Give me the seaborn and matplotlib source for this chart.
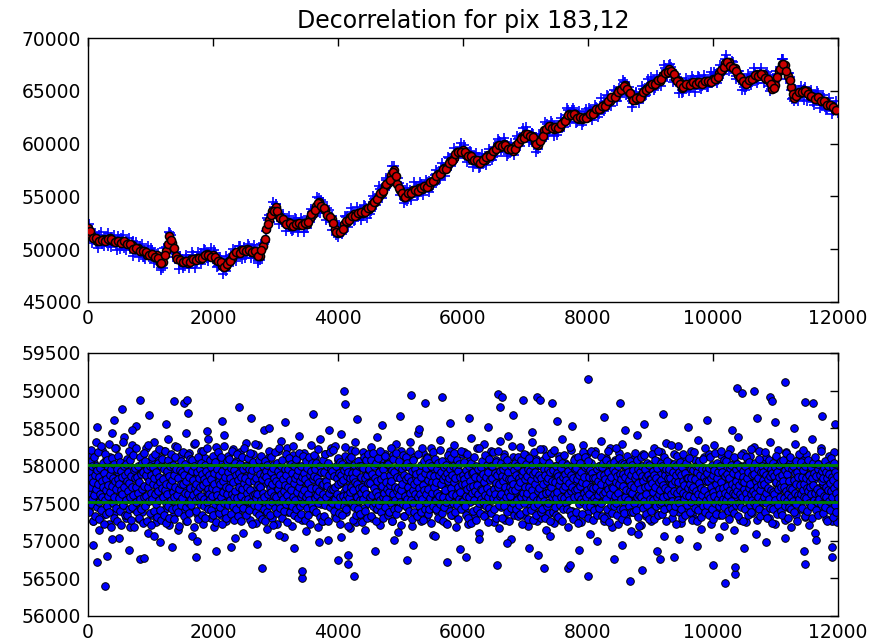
import numpy as np
import pandas as pd
import matplotlib
matplotlib.use("Agg")
import matplotlib.pyplot as plt
import seaborn as sns

TITLE = "Decorrelation for pix 183,12"
TOP_STEP = 50      # frame spacing of the top-panel samples
TOP_MID = 25       # the *_mid lists sit halfway between
TOP_OUT = 12       # offset of top_raw_out samples
BOT_STEP_A = 15    # frame spacing of bottom_core
BOT_STEP_B = 7.5   # frame spacing of bottom_core_b

# ---- top panel: measured flux (blue +) ----
top_raw = [
    52200, 51150, 51150, 50450, 51000, 50750, 51250, 50600, 50900, 50550,
    50950, 50350, 50750, 50300, 50650, 49900, 49950, 50150, 49300, 49750,
    49200, 49600, 49200, 49150, 48250, 50250, 51600, 50300, 49500, 48650,
    49100, 48450, 49100, 48750, 49050, 48800, 49650, 49200, 49150, 49550,
    49100, 49450, 48500, 48600, 47900, 49050, 49150, 49800, 49750, 49450,
    50200, 49700, 49950, 49350, 49850, 49000, 50600, 51700, 53200, 53250,
    54250, 53000, 52900, 52350, 52600, 51900, 52600, 52150, 52450, 52100,
    52700, 52550, 53750, 53900, 54850, 53800, 53750, 52950, 53100, 51850,
    51150, 52100, 52150, 53100, 52700, 53300, 53100, 53750, 53100, 53900,
    54050, 53900, 54850, 54850, 55750, 55650, 56500, 56700, 57900, 56100,
    55150, 55300, 54600, 55600, 55400, 55850, 55400, 55950, 55700, 56450,
    56200, 57000, 56850, 57700, 57300, 58000, 58050, 58900, 59000, 59650,
    59000, 59150, 58450, 58850, 58200, 58700, 58150, 58800, 58550, 59200,
    59650, 59400, 60150, 59650, 59900, 59100, 59500, 59550, 60500, 60300,
    60950, 60550, 61000, 60000, 59500, 60750, 61050, 61900, 61350, 61700,
    61200, 61800, 61750, 62750, 62550, 63200, 62400, 62600, 62100, 62700,
    62450, 63100, 62600, 63400, 63300, 63950, 63550, 64250, 64100, 64950,
    65300, 65100, 65850, 64700, 64050, 64600, 64150, 64800, 64550, 65350,
    65250, 66050, 65700, 66300, 66000, 67000, 67450, 66400, 66450, 65600,
    65100, 65750, 65400, 66050, 65550, 66050, 65450, 65900, 65600, 66250,
    66200, 65900, 66950, 66950, 68000, 67350, 67400, 66650, 66850, 65900,
    65350, 66100, 65850, 66550, 66200, 66800, 66400, 66550, 65500, 65350,
    65850, 66600, 68000, 67000, 66650, 65050, 64050, 64900, 64750, 65200,
    64600, 64800, 63950, 64600, 64000, 64250, 63500, 63950, 63350, 63600,
    62900,
]
top_raw_mid = [
    51200, 51580, 50725, 51375, 50505, 51025, 50300, 51155, 50700, 51205,
    51050, 50155, 50750, 50050, 50775, 49900, 50345, 49295, 49750, 49300,
    49950, 48970, 49300, 48200, 49650, 50400, 51300, 49600, 49350, 49350,
    48375, 49125, 48700, 49470, 48650, 49400, 48950, 49930, 49200, 49450,
    49620, 48400, 48950, 48200, 49030, 48700, 49550, 49150, 50350, 49550,
    49520, 50350, 49500, 50000, 48900, 50050, 50700, 52750, 53000, 54000,
    53080, 53300, 53100, 52150, 52500, 51820, 52850, 52150, 52700, 52050,
    53150, 52900, 53950, 53650, 54630, 53700, 53900, 52580, 52650, 51350,
    51900, 51600, 53050, 52600, 53500, 52750, 53500, 53100, 54080, 53600,
    53650, 54750, 54600, 55700, 55350, 56600, 56150, 57450, 56700, 56280,
    55820, 54700, 55450, 54950, 55750, 55100, 56150, 55700, 56350, 55950,
    56100, 57100, 56650, 57830, 57550, 58650, 58150, 59050, 58780, 59600,
    59550, 58600, 59250, 58300, 58700, 57820, 58650, 58250, 59100, 58700,
    59200, 60250, 59550, 60150, 59050, 59650, 59300, 60480, 60200, 61000,
    61150, 60300, 60900, 59800, 60700, 60500, 61500, 61130, 61930, 61250,
    61070, 62100, 61950, 63150, 62500, 63150, 62050, 62650, 62000, 62950,
    63200, 62650, 63450, 62820, 63700, 63300, 64500, 63950, 64700, 64500,
    64850, 65850, 64700, 64900, 63850, 64750, 64250, 65130, 64600, 65650,
    65950, 65270, 66100, 65900, 67150, 66650, 67250, 66000, 66350, 65450,
    64900, 65850, 65225, 66125, 65525, 66275, 65450, 66075, 65395, 66350,
    66550, 66050, 67100, 66850, 67900, 67250, 67700, 66400, 66500, 65600,
    65350, 66400, 65850, 66750, 66000, 66750, 66100, 66500, 65200, 65900,
    66500, 66750, 68000, 66700, 66300, 64350, 64200, 65100, 64700, 65400,
    64400, 64850, 64100, 64750, 63700, 64300, 63250, 63850, 63100, 63600,
]
top_raw_out = [
    52350, 50550, 51525, 50075, 51625, 50275, 51550, 50175, 51350, 49925,
    50000, 51325, 49950, 51100, 49375, 50650, 49275, 50475, 49100, 50350,
    50150, 48700, 49650, 48000, 50150, 50000, 51500, 49250, 49750, 48150,
    48175, 49475, 48250, 49700, 48250, 49750, 48600, 50050, 48850, 50150,
    49900, 48300, 49250, 47650, 49350, 48450, 50050, 48900, 50300, 49050,
    49200, 50500, 49150, 50400, 48650, 50450, 50450, 53000, 52600, 54500,
    54300, 52400, 53300, 51750, 53150, 51700, 52950, 51650, 52950, 51650,
    52000, 53850, 53150, 54950, 53450, 54450, 52750, 53700, 51850, 52500,
    52300, 51400, 53100, 52100, 53900, 52650, 54000, 52750, 54150, 53000,
    53350, 55050, 54200, 55950, 54850, 56750, 56050, 57900, 56300, 56700,
    56000, 54400, 55750, 54650, 56350, 55050, 56400, 55150, 56550, 55450,
    55850, 57500, 56550, 58200, 56950, 58700, 57850, 59600, 58650, 60100,
    59850, 58250, 59300, 57750, 59150, 57700, 59050, 57950, 59500, 58450,
    58850, 60400, 59200, 60500, 58800, 60050, 58950, 60700, 59800, 61450,
    61550, 60150, 61050, 59250, 60950, 60250, 62000, 60850, 62100, 60700,
    60850, 62400, 61550, 63350, 62000, 63350, 61950, 63100, 61800, 63300,
    63400, 62250, 63700, 62550, 64300, 63100, 64600, 63550, 65100, 64050,
    64450, 66050, 64650, 65400, 63450, 64850, 63800, 65450, 64500, 66150,
    66300, 65100, 66500, 65450, 67400, 66300, 67500, 65800, 66600, 64800,
    64750, 66200, 65025, 66425, 64925, 66375, 65150, 66525, 65325, 66750,
    66800, 65750, 67450, 66600, 68400, 66850, 67800, 66100, 66900, 65100,
    65050, 66550, 65550, 67150, 65750, 67150, 65700, 66750, 65000, 66200,
    66900, 66550, 68050, 66150, 66700, 64250, 65150, 64050, 65500, 64150,
    64050, 65100, 63700, 65000, 63350, 64600, 63150, 64300, 62850, 64050,
]

# ---- top panel: decorrelation model (red o) ----
top_model = [
    52000, 51320, 51060, 50730, 50840, 50940, 50850, 51020, 50750, 50780,
    50640, 50810, 50560, 50500, 50380, 49980, 50070, 49810, 49800, 49490,
    49580, 49300, 49420, 48740, 48790, 49870, 51250, 50600, 49320, 49060,
    48810, 48920, 48690, 49030, 48960, 49180, 49080, 49360, 49510, 49330,
    49420, 49010, 48860, 48370, 48380, 48840, 49190, 49600, 49640, 49890,
    49800, 50030, 49730, 49790, 49480, 49360, 50320, 51910, 52750, 53600,
    53980, 53180, 52890, 52540, 52540, 52200, 52350, 52370, 52290, 52520,
    52430, 53000, 53370, 54060, 54490, 54020, 53720, 53100, 52840, 51910,
    51510, 51740, 52380, 52580, 53050, 53330, 53210, 53470, 53400, 53760,
    53820, 54290, 54490, 55070, 55350, 56020, 56310, 57060, 57500, 56170,
    55600, 54980, 55060, 55220, 55630, 55540, 55790, 55690, 55950, 56030,
    56470, 56600, 57120, 57240, 57690, 57770, 58380, 58650, 59210, 59210,
    59420, 58930, 58890, 58490, 58460, 58210, 58430, 58440, 58880, 58980,
    59340, 59810, 59720, 59930, 59600, 59550, 59280, 59890, 60150, 60600,
    60890, 60780, 60760, 60120, 59910, 60450, 61330, 61400, 61670, 61410,
    61600, 61540, 62020, 62310, 62850, 62690, 62780, 62370, 62360, 62490,
    62520, 62930, 62930, 63300, 63280, 63660, 63890, 63990, 64450, 64640,
    65110, 65210, 65570, 64880, 64380, 64140, 64430, 64500, 64950, 65290,
    65560, 65590, 65920, 65930, 66500, 66670, 67080, 66760, 66210, 65910,
    65280, 65590, 65540, 65760, 65620, 65880, 65700, 65850, 65920, 65810,
    66090, 66130, 66710, 66970, 67660, 67700, 67220, 67120, 66540, 66150,
    65820, 65710, 66060, 66190, 66580, 66550, 66630, 66080, 65970, 65140,
    65520, 66920, 67540, 67400, 66370, 65370, 64310, 64710, 64830, 65060,
    65000, 64540, 64390, 64180, 64270, 64000, 64030, 63620, 63560, 63190,
    63250,
]
top_model_mid = [
    51710, 51090, 51055, 50755, 50915, 50735, 50940, 50995, 50710, 50795,
    50620, 50775, 50500, 50490, 50055, 50110, 49795, 49865, 49700, 49450,
    49510, 49240, 49180, 48680, 49440, 50460, 50890, 50070, 49110, 49020,
    48795, 48925, 48800, 49090, 48930, 49210, 49120, 49440, 49450, 49250,
    49260, 48840, 48780, 48330, 48640, 48910, 49440, 49720, 49660, 49920,
    49820, 49950, 49700, 49790, 49330, 49910, 50970, 52390, 53200, 53600,
    53660, 52940, 52830, 52430, 52440, 52160, 52340, 52470, 52310, 52520,
    52620, 53300, 53700, 54340, 54130, 53910, 53270, 53090, 52450, 51600,
    51660, 51940, 52630, 52780, 53190, 53110, 53390, 53570, 53510, 53870,
    53970, 54500, 54750, 55340, 55530, 56210, 56570, 57290, 56900, 55800,
    55360, 54940, 55280, 55330, 55640, 55510, 55790, 55970, 55910, 56320,
    56470, 56950, 57100, 57590, 57630, 58160, 58370, 58990, 59250, 59200,
    59210, 58790, 58830, 58430, 58440, 58160, 58440, 58770, 58860, 59320,
    59470, 59850, 59750, 59890, 59480, 59510, 59470, 60090, 60400, 60550,
    60910, 60690, 60580, 59930, 60240, 60710, 61390, 61670, 61460, 61570,
    61470, 61850, 62100, 62740, 62680, 62810, 62470, 62490, 62400, 62400,
    62760, 62790, 63230, 63230, 63590, 63560, 63990, 64370, 64460, 64920,
    65070, 65500, 65200, 64790, 64130, 64310, 64320, 64840, 65100, 65250,
    65660, 65640, 66030, 66130, 66690, 66760, 66890, 66620, 65960, 65670,
    65370, 65650, 65575, 65815, 65605, 65835, 65670, 65915, 65925, 65850,
    66160, 66290, 66980, 67280, 67690, 67310, 67190, 66920, 66260, 65970,
    65670, 66000, 66100, 66540, 66430, 66610, 66220, 66140, 65600, 65300,
    66260, 67090, 67580, 66830, 65990, 64710, 64540, 64870, 64860, 65020,
    64670, 64550, 64250, 64390, 64030, 64060, 63670, 63690, 63450, 63150,
]

# ---- bottom panel: decorrelated flux, core samples (set A) ----
bottom_core = [
    57820,57410,58150,57690,57930,57260,58040,57580,57770,58310,57500,57880,57140,57960,57640,58210,57350,57710,58060,57450,
    57990,57620,57230,58120,57780,57530,58430,57850,57370,57700,58240,57580,57910,57040,57820,58010,57460,57670,58380,57750,
    57310,57890,58090,57560,57720,57190,57980,58270,57640,57430,57830,58530,57520,57760,57290,58000,57660,57940,57380,58150,
    57700,57480,58230,57850,57110,57970,57600,58060,57340,57790,58320,57550,57900,57250,57680,58110,57820,56980,57740,58000,
    57590,58190,57420,57860,57650,58350,57210,57770,57950,57500,58080,57330,57710,58260,57620,57880,57150,57990,57530,58140,
    57760,57390,58020,57680,58440,57270,57840,57560,58170,57450,57920,57060,57730,58290,57610,57830,57360,58050,57700,57490,
    58200,57570,57910,57220,57800,58100,57470,57660,58360,57540,57870,57310,58030,57750,57180,57940,58250,57630,57410,57850,
    57690,58070,57340,57960,57580,58410,57720,57260,57890,58130,57510,57780,56920,57990,57640,58220,57440,57810,58060,57590,
    57370,57930,58180,57610,57750,57100,58000,57520,57860,58300,57430,57700,58090,57280,57830,57560,58160,57670,57980,57240,
    57800,58280,57490,57720,58040,57350,57900,57600,58470,57460,57770,57160,57950,58120,57540,57840,57300,58010,57650,57880,
    57560,57980,57230,58190,57690,57420,58330,57810,57590,57050,57930,57660,58240,57380,57750,58050,57470,57870,57200,58140,
    57720,57340,58070,57630,57900,58390,57510,57780,57280,57960,58170,57580,57830,57130,57700,58020,57450,57890,58280,57610,
    57400,57850,58110,57540,57760,57190,58000,57680,58350,57490,57920,57270,57800,58150,57570,57730,57010,57990,57620,58230,
    57880,57460,57700,58260,57330,57950,57590,58080,57750,57220,58420,57540,57860,57650,58130,57390,57810,57560,58040,57170,
    57690,58210,57480,57940,57610,58320,57250,57840,57520,58060,57730,57350,57970,58180,57440,57790,57140,57900,57630,58100,
    57530,57870,58250,57300,57740,57600,58010,57420,58380,57670,57910,57210,57820,58090,57550,57760,57360,58160,57640,57990,
    58050,57380,57720,57930,57270,58140,57580,57850,57460,58290,57700,57120,57960,57610,58200,57490,57800,57330,58070,57680,
    57450,58000,57640,58310,57560,57780,57200,57920,58110,57370,57830,57590,58430,57510,57710,57260,57980,58170,57620,57870,
    57770,57310,58120,57650,57890,57430,58240,57560,57080,57950,57720,58050,57400,57860,57630,58340,57290,57750,58010,57540,
    57930,57620,57240,58080,57700,57480,58190,57810,57350,57990,58270,57570,57840,57190,57660,58030,57470,57910,57600,58150,
    57600,58180,57410,57870,57730,57230,58060,57520,57960,58370,57640,57800,57320,57940,57560,58230,57690,57110,57850,58000,
    57490,57760,58290,57580,57910,57360,58120,57670,57440,57990,58200,57540,57820,57250,57710,58080,57600,57930,57170,58330,
    57800,57450,58030,57690,58160,57280,57870,57610,58400,57500,57740,57020,57980,58110,57630,57840,57390,58070,57560,57890,
    57670,58250,57520,57800,57340,57960,57590,58140,57720,57200,58020,57470,57900,57650,58310,57410,57780,57540,58090,57260,
    58010,57590,57850,57300,57710,58220,57480,57940,57630,57150,58060,57760,57370,57880,58170,57550,57810,57240,57990,57650,
    57540,57920,58130,57620,57290,57830,58360,57690,57460,58040,57580,57880,57190,57970,57730,58210,57400,57770,57610,58100,
    57860,57330,57700,58070,57560,57990,57250,57810,58270,57640,57500,57930,58150,57380,57750,57090,57890,58030,57620,57440,
    57720,58190,57580,57860,57420,58000,57680,58330,57530,57790,57270,57950,57640,58100,57350,57840,57570,58240,57710,57180,
    57950,57490,58080,57660,57880,57220,58170,57610,57830,57400,58290,57740,57520,57980,57300,57870,58050,57590,57760,57130,
    57640,57910,57380,58120,57730,57560,58410,57820,57470,57990,57210,57850,58160,57620,57780,57330,58020,57690,57950,57510,
    57830,57270,57960,57600,58230,57450,57770,58060,57350,57890,57640,58180,57520,57740,57060,57930,57680,58300,57440,57810,
    57580,58040,57730,57310,57900,58150,57490,57860,57620,58260,57380,57710,57950,57240,58090,57560,57820,57400,58000,57670,
    57990,57520,57840,58200,57360,57760,57600,58070,57290,57910,57700,58340,57470,57850,57160,57980,57630,58110,57550,57790,
    57410,57880,58160,57650,57960,57230,57800,57540,58280,57690,57430,58010,57760,57340,57900,58140,57580,57830,57200,57970,
    57740,58090,57460,57870,57610,58220,57390,57950,57700,57140,58050,57570,57820,58380,57500,57730,57280,57990,57640,58170,
    57600,57930,57250,58030,57780,57480,58130,57690,57370,57860,58250,57530,57800,57090,57940,57660,58190,57420,57750,58060,
    57880,57350,57720,58110,57590,57970,57300,57840,58320,57610,57460,57900,58080,57230,57770,57550,58210,57680,57390,57920,
    57510,58020,57760,57280,57890,58180,57620,57830,57440,58040,57180,57710,57960,57570,58290,57350,57850,57640,58100,57490,
    57790,57420,58070,57650,57930,57320,58150,57590,57870,57210,57990,57740,58360,57480,57820,57100,57960,57610,58030,57700,
    57560,57900,58240,57380,57750,57630,58010,57290,57880,57530,58130,57690,57440,57950,57260,57810,58180,57600,57920,57250,
]

# ---- bottom panel: decorrelated flux, core samples (set B) ----
bottom_core_b = [
    57640,57910,57380,58050,57720,57490,58210,57830,57560,57990,57270,57780,58120,57610,57870,57330,58000,57690,57450,57940,
    57760,58180,57520,57850,57290,57970,57630,58260,57410,57800,57580,58030,57710,57220,57900,57540,58150,57670,57360,57820,
    58080,57470,57740,57600,58290,57390,57880,57650,57180,57960,57730,58100,57500,57840,57310,58020,57580,57790,58240,57440,
    57690,57950,57260,57820,58130,57570,57760,57400,58050,57680,57930,57210,57850,57620,58310,57480,57710,57990,57340,57880,
    57540,58020,57800,57350,57910,57660,58190,57430,57770,57590,58070,57280,57860,57720,57450,58140,57610,57940,57190,57830,
    57970,57520,57710,58230,57380,57850,57640,57990,57300,57780,58120,57560,57890,57420,58040,57690,57240,57920,57580,58170,
    57730,57460,58060,57600,57880,57270,57950,57710,58280,57530,57800,57370,58000,57640,57870,57210,58110,57560,57750,57980,
    57400,57840,57620,58150,57490,57910,57730,57320,58030,57660,57850,57540,58220,57410,57780,57990,57280,57700,58090,57590,
    57820,57350,57960,57680,58200,57510,57760,57240,57930,57620,58070,57470,57860,57300,57990,57740,58160,57550,57810,57430,
    57650,58010,57290,57870,57590,58120,57720,57440,57960,57610,58250,57380,57830,57690,57200,57940,57530,58060,57760,57480,
    57910,57570,57750,58180,57330,57880,57640,58020,57450,57790,57260,57970,57620,58140,57510,57850,57370,58090,57700,57560,
    57480,57930,58070,57610,57810,57190,57990,57700,58300,57540,57760,57400,57920,57650,58110,57290,57840,57580,57950,57720,
    58040,57600,57350,57890,57740,58190,57470,57820,57560,58010,57300,57780,57930,57520,58230,57690,57420,57870,57630,58080,
    57560,57820,57980,57410,57700,57600,58130,57340,57900,57750,58050,57490,57680,57250,57960,57610,58180,57530,57790,57370,
    57880,57450,57760,58110,57580,57930,57220,57800,57650,58260,57510,57850,57390,57990,57710,57300,58060,57620,57910,57480,
    57700,58090,57540,57830,57360,57970,57620,58200,57470,57780,57590,57940,57280,58030,57660,57880,57420,58150,57570,57810,
    57330,57900,57720,58020,57490,57850,57600,57270,58120,57690,57950,57440,57770,58240,57550,57830,57350,57990,57640,57720,
    58100,57560,57800,57410,57960,57680,58170,57520,57870,57230,57940,57610,58050,57480,57790,57620,58290,57380,57840,57570,
    57620,57960,57460,57740,58080,57350,57890,57710,57550,58130,57290,57820,57640,57990,57420,57880,57580,58060,57270,57930,
    57850,57390,58010,57620,57780,57480,58200,57700,57340,57910,57650,58110,57520,57760,57210,57970,57600,57830,58180,57440,
    57590,57800,57370,58040,57690,57930,57510,57760,58230,57440,57870,57630,57990,57310,58070,57560,57820,57660,57400,57950,
    57740,58150,57490,57880,57610,57250,57960,57720,58100,57530,57810,57380,58020,57680,57900,57470,58260,57590,57770,57340,
    57990,57540,57830,57420,58090,57650,57870,57300,57940,57710,58170,57460,57790,57580,58000,57360,57850,57620,58130,57510,
    57670,57900,57280,57820,57590,58060,57440,57970,57630,57770,57350,58120,57540,57880,57220,57930,57700,58040,57480,57820,
    57430,57860,58140,57570,57950,57700,57390,58030,57610,57840,57500,58220,57660,57780,57320,57990,57550,57920,57740,57260,
    58070,57620,57750,57330,57910,58160,57480,57800,57580,57990,57730,57270,58040,57640,57870,57450,58180,57520,57690,57960,
    57510,57930,57690,58210,57400,57860,57720,57560,57990,57300,57830,57630,58100,57480,57750,57900,57370,58050,57590,57780,
    57880,57350,58020,57600,57810,57470,57940,58250,57540,57700,57420,57980,57610,57860,57200,57920,58090,57570,57830,57650,
    57720,58110,57500,57900,57280,57840,57670,58010,57450,57780,58190,57350,57920,57580,57760,58060,57430,57700,57990,57540,
    57360,57850,57640,58000,57720,57250,57970,57560,58120,57690,57830,57400,58070,57620,57880,57310,58150,57770,57500,57940,
    57950,57580,57770,58080,57330,57890,57610,57460,58170,57700,57990,57510,57840,57260,58030,57650,57790,57420,58100,57600,
    57480,57910,58190,57550,57820,57380,58000,57730,57590,57960,57300,57860,57640,58130,57450,57780,57560,58020,57690,57350,
    58020,57650,57390,57870,57740,58240,57500,57800,57270,57940,57620,58090,57430,57910,57710,57550,58170,57360,57850,57660,
    57700,57440,57990,57610,58060,57520,57830,57680,57210,57960,57760,58140,57490,57880,57330,58000,57600,57820,57470,58110,
    57560,58040,57710,57850,57400,57980,57640,58200,57540,57790,57290,57930,57680,58080,57510,57760,57390,57950,57620,57840,
    57890,57330,57800,57590,58150,57700,57460,57920,57620,58010,57380,57850,58230,57560,57740,57280,58060,57670,57900,57430,
    57620,57970,57500,58100,57360,57810,57690,58040,57430,57880,57570,57990,57240,57780,57640,58180,57470,57860,57710,57550,
    58090,57540,57780,57420,57950,57640,58030,57310,57870,57600,58210,57490,57760,57920,57370,58060,57590,57820,57260,57980,
    57450,57860,57670,58010,57520,57900,57230,57790,58140,57580,57830,57400,57960,57700,58100,57340,57880,57630,57990,57510,
    57780,58170,57390,57840,57610,57970,57480,58080,57720,57290,57930,57560,58020,57650,57850,57420,58190,57530,57760,57880,
    57530,57820,58050,57470,57760,57600,57940,57350,58160,57690,57870,57300,57990,57580,57800,57710,57240,58030,57640,57900,
    57910,57400,57730,58120,57550,57850,57660,57280,58000,57740,57430,57960,57620,58230,57500,57830,57370,57980,57690,57560,
    57680,58060,57520,57890,57330,57780,58140,57610,57850,57460,58010,57700,57250,57920,57590,58090,57440,57810,57650,57990,
    57370,57840,57990,57570,58180,57690,57420,57900,57630,57770,57310,58050,57540,57880,57720,58200,57480,57750,57600,57930,
    58030,57620,57860,57300,57950,57530,57800,58110,57460,57710,57990,57580,57850,57390,58070,57650,57920,57270,57820,57710,
    57600,57990,57440,57820,57670,58260,57510,57760,57350,57940,57680,58040,57420,57870,57550,57990,57330,58120,57730,57480,
    57840,57360,57780,58070,57590,57880,57230,57930,57640,58150,57500,57820,57710,57400,58020,57590,57860,57640,57290,57950,
    57720,58100,57550,57930,57410,57810,57670,58010,57280,57890,57600,58180,57470,57760,57920,57350,58060,57540,57840,57660,
    57490,57870,57700,58220,57560,57990,57380,57840,57610,57420,58080,57750,57530,57960,57310,57880,57640,58130,57460,57800,
    57960,57500,57830,57650,58040,57270,57910,57720,58170,57590,57790,57380,57940,57630,58210,57450,57780,57570,57990,57350,
    57650,57900,57320,57860,57740,58090,57480,57810,57590,57970,57260,58030,57690,57850,57420,58140,57570,57730,57890,57510,
    57810,57430,58010,57620,57930,57550,57770,58250,57400,57880,57660,57340,57990,57710,57830,57290,58070,57580,57950,57680,
    57390,57970,57690,57820,57240,58120,57600,57880,57490,58040,57730,57560,57910,57360,57780,58180,57520,57850,57640,57980,
    58120,57580,57760,57460,57990,57680,58060,57300,57850,57620,57940,57470,58200,57710,57550,57900,57280,57830,57700,57410,
    57570,57840,58150,57530,57720,57350,57960,57790,57610,58000,57440,57870,57660,58110,57500,57760,57980,57330,58040,57620,
    57880,57310,57820,57650,58080,57560,57740,57420,58190,57690,57910,57250,57800,57630,58020,57480,57850,57710,57370,57960,
    57700,58050,57460,57920,57600,57780,58230,57510,57860,57340,57990,57640,57760,58100,57430,57890,57560,57820,58030,57290,
    57420,57890,57730,58020,57370,57850,57590,57990,57680,57270,58130,57550,57920,57470,57810,57660,58060,57390,57740,57880,
    58010,57640,57380,57940,57720,57500,58170,57830,57410,57880,57580,58070,57320,57770,57950,57610,57200,57910,57690,58120,
    57590,57860,57990,57440,57800,58140,57530,57710,57960,57360,57850,57620,58040,57480,57730,57880,57290,58010,57560,57820,
    57820,57400,57770,58160,57550,57930,57650,57290,57870,57720,58080,57460,57840,57590,57970,57340,58190,57620,57780,57490,
    57680,58030,57520,57810,57360,57990,57740,57580,58110,57430,57880,57700,57260,57950,57610,58060,57500,57830,57670,57920,
    57950,57450,57840,57620,58270,57530,57760,57910,57380,58020,57660,57800,57470,57990,57230,57870,57640,58130,57540,57780,
    57510,57920,57680,58050,57420,57870,57300,57980,57640,57790,58160,57560,57740,57350,57900,57610,58040,57480,57830,57700,
    57840,57600,58100,57390,57750,57960,57520,57830,57690,57280,57940,57720,58180,57590,57820,57440,58000,57660,57260,57910,
    57630,57990,57410,57770,58060,57540,57880,57700,57320,57950,57610,58090,57470,57850,57680,58230,57380,57790,57960,57550,
    57900,57480,57790,57610,57970,57350,58120,57570,57840,57720,57430,58010,57650,57880,57290,57940,57600,58170,57510,57760,
    57360,57830,58040,57560,57910,57690,57470,57990,57620,58200,57520,57780,57340,57920,57700,57560,58080,57450,57860,57640,
    58060,57550,57730,57890,57400,58150,57610,57840,57290,57970,57680,57530,58010,57760,57420,57900,57640,57370,58110,57710,
    57620,57950,57480,57800,57660,58020,57330,57870,57740,57510,57980,57620,58140,57450,57790,57580,57930,57270,57850,57690,
    57780,57420,57990,57640,58110,57560,57830,57350,57910,57700,58050,57480,57760,57620,58220,57390,57880,57540,57970,57660,
    57500,57890,57620,58030,57460,57800,57710,57280,57960,57590,57840,57420,58090,57670,57330,57920,57750,58000,57530,57810,
    57920,57580,57750,57390,58180,57640,57870,57500,57990,57310,57820,57700,57560,58070,57440,57860,57680,57960,57240,57900,
    57650,58040,57430,57860,57620,57980,57550,57780,58130,57360,57910,57690,57480,57850,58010,57590,57760,57400,58060,57720,
    57870,57350,57800,58080,57570,57720,57940,57460,57660,58170,57530,57890,57300,57980,57620,57800,57450,58110,57700,57580,
    57430,57960,57690,57530,58000,57810,57380,57900,57640,58060,57490,57760,57920,57270,57850,57610,58150,57560,57740,57990,
    58050,57620,57850,57440,57940,57680,58210,57590,57760,57330,57990,57570,57830,57700,57400,58080,57660,57880,57510,57790,
    57710,57470,57980,57620,57830,57300,58040,57740,57550,57900,57640,58120,57410,57860,57690,57520,57950,57350,58020,57630,
    57560,57880,57650,58190,57490,57790,57930,57370,57840,57600,57970,57450,58060,57720,57580,57910,57260,57830,57680,58000,
    57890,57530,57770,57410,58100,57660,57850,57590,57980,57320,57810,57700,58030,57480,57920,57640,57390,57860,57750,57570,
]

# ---- bottom panel: tail / outlier samples ----
bottom_out_x = [
    150, 420, 700, 980, 1250, 1600, 1900, 2150, 2600, 2900, 3150, 3600, 3850, 4300, 4700, 5000, 5300, 5800,
    6100, 6400, 6800, 7100, 7500, 7750, 8250, 8600, 8900, 9200, 9600, 9900, 10300, 10700, 11000, 11300, 11750, 11950,
    80, 380, 650, 1050, 1350, 1750, 2050, 2350, 2700, 3050, 3300, 3700, 4050, 4600, 4900, 5200, 5550, 5950,
    6250, 6700, 7050, 7400, 7850, 8150, 8550, 8800, 9100, 9450, 9750, 10100, 10500, 10850, 11150, 11450, 11650, 11900,
    8005, 11160, 10385, 10470, 10660, 4100, 826, 1377, 1530, 1590, 5166, 5660, 6560, 6630, 6960, 7180, 7225,
    10920, 10945, 11480, 11595, 5400, 4120, 7420, 8520, 2420, 536, 6600,
    270, 10200, 8670, 3430, 3430, 4255, 8000, 10355, 10355, 2790, 8860, 7300, 7680, 7715, 6540, 4155, 10000,
    11480, 140, 1720, 830, 895, 4000, 4155, 5740, 5110, 8420, 9375, 9145, 11900, 7195, 305, 6045,
]
bottom_out_y = [
    58520, 58610, 58480, 58670, 58550, 58700, 58460, 58590, 58640, 58500, 58580, 58690, 58470, 58620, 58540, 58660, 58490, 58570,
    58630, 58510, 58680, 58450, 58600, 58530, 58650, 58480, 58560, 58690, 58520, 58610, 58470, 58640, 58580, 58500, 58660, 58550,
    56950, 57020, 56880, 57060, 56920, 57000, 56870, 57040, 56960, 57080, 56900, 56990, 57050, 56860, 57010, 56940, 57070, 56890,
    57030, 56970, 56910, 57060, 56880, 57000, 56950, 57090, 56870, 57020, 56930, 57050, 56900, 56980, 57040, 56860, 57010, 56920,
    59150, 59110, 59030, 58970, 59000, 58990, 58880, 58860, 58830, 58870, 58940, 58920, 58950, 58920, 58880, 58920, 58870,
    58920, 58860, 58850, 58830, 58840, 58820, 58840, 58840, 58780, 58750, 58780,
    56400, 56440, 56470, 56500, 56600, 56530, 56530, 56560, 56650, 56640, 56610, 56640, 56640, 56680, 56680, 56690, 56680,
    56690, 56720, 56790, 56760, 56770, 56750, 56810, 56720, 56750, 56760, 56790, 56760, 56790, 56810, 56800, 56790,
]

# ---- bottom panel: reference levels (green lines) ----
green_levels = [57520, 58010]

# ---------------------------------------------------------------
top_df_raw = pd.concat([
    pd.DataFrame({"frame": np.arange(len(top_raw)) * TOP_STEP, "flux": top_raw}),
    pd.DataFrame({"frame": np.arange(len(top_raw_mid)) * TOP_STEP + TOP_MID, "flux": top_raw_mid}),
    pd.DataFrame({"frame": np.arange(len(top_raw_out)) * TOP_STEP + TOP_OUT, "flux": top_raw_out}),
], ignore_index=True)
top_df_mod = pd.concat([
    pd.DataFrame({"frame": np.arange(len(top_model)) * TOP_STEP, "flux": top_model}),
    pd.DataFrame({"frame": np.arange(len(top_model_mid)) * TOP_STEP + TOP_MID, "flux": top_model_mid}),
], ignore_index=True)
bot_df = pd.concat([
    pd.DataFrame({"frame": np.arange(len(bottom_core)) * BOT_STEP_A, "flux": bottom_core}),
    pd.DataFrame({"frame": np.arange(len(bottom_core_b)) * BOT_STEP_B + 3, "flux": bottom_core_b}),
    pd.DataFrame({"frame": bottom_out_x, "flux": bottom_out_y}),
], ignore_index=True)

sns.set_style("white")
plt.rcParams["font.family"] = ["DejaVu Sans"]
plt.rcParams["text.color"] = "black"

fig = plt.figure(figsize=(8.89, 6.42), dpi=100)
ax1 = fig.add_axes([0.099, 0.5296, 0.8436, 0.4112])
ax2 = fig.add_axes([0.099, 0.0405, 0.8436, 0.4097])

sns.scatterplot(data=top_df_raw, x="frame", y="flux", ax=ax1, marker="+",
                color="blue", s=60, linewidth=1.2, legend=False, zorder=2)
sns.scatterplot(data=top_df_mod, x="frame", y="flux", ax=ax1, marker="o",
                color="#cc0000", edgecolor="black", s=34, linewidth=1.1,
                legend=False, zorder=3)
ax1.set_xlim(0, 12000)
ax1.set_ylim(45000, 70000)
ax1.set_yticks([45000, 50000, 55000, 60000, 65000, 70000])
ax1.set_title(TITLE, fontsize=17, color="black", pad=7)

sns.scatterplot(data=bot_df, x="frame", y="flux", ax=ax2, marker="o",
                color="blue", edgecolor="black", s=30, linewidth=0.7,
                legend=False, zorder=2)
for lv in green_levels:
    ax2.axhline(lv, color="green", linewidth=2, zorder=3)
ax2.set_xlim(0, 12000)
ax2.set_ylim(56000, 59500)
ax2.set_yticks([56000, 56500, 57000, 57500, 58000, 58500, 59000, 59500])

for ax in (ax1, ax2):
    ax.set_xticks([0, 2000, 4000, 6000, 8000, 10000, 12000])
    ax.set_xlabel("")
    ax.set_ylabel("")
    ax.tick_params(direction="in", top=True, right=True, length=6, width=1,
                   labelsize=13.5, colors="black", pad=5)
    for sp in ax.spines.values():
        sp.set_color("black")
        sp.set_linewidth(1.0)
        sp.set_visible(True)
    ax.set_facecolor("white")

fig.savefig("out.png", dpi=100, facecolor="white")
